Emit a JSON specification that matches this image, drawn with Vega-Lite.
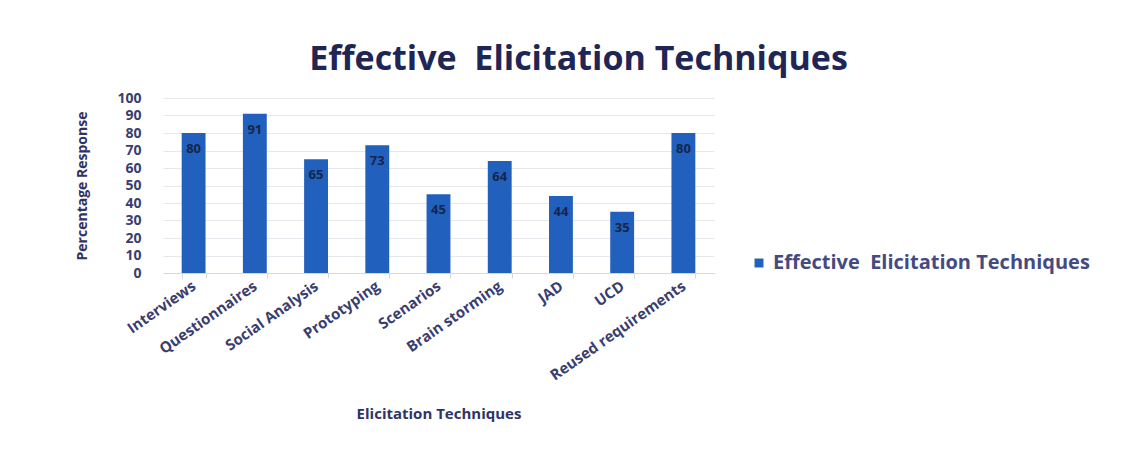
{
  "$schema": "https://vega.github.io/schema/vega-lite/v6.json",
  "width": 551,
  "height": 175,
  "autosize": {"type": "none"},
  "padding": {"left": 163, "top": 98, "right": 420, "bottom": 181},
  "background": "white",
  "title": {
    "text": "Effective\u00a0 Elicitation Techniques",
    "font": "Open Sans",
    "fontSize": 34,
    "fontWeight": "bold",
    "color": "#1f2656",
    "anchor": "middle",
    "dx": 140,
    "offset": 14
  },
  "data": {
    "values": [
      {"technique": "Interviews", "value": 80, "series": "Effective\u00a0 Elicitation Techniques"},
      {"technique": "Questionnaires", "value": 91, "series": "Effective\u00a0 Elicitation Techniques"},
      {"technique": "Social Analysis", "value": 65, "series": "Effective\u00a0 Elicitation Techniques"},
      {"technique": "Prototyping", "value": 73, "series": "Effective\u00a0 Elicitation Techniques"},
      {"technique": "Scenarios", "value": 45, "series": "Effective\u00a0 Elicitation Techniques"},
      {"technique": "Brain storming", "value": 64, "series": "Effective\u00a0 Elicitation Techniques"},
      {"technique": "JAD", "value": 44, "series": "Effective\u00a0 Elicitation Techniques"},
      {"technique": "UCD", "value": 35, "series": "Effective\u00a0 Elicitation Techniques"},
      {"technique": "Reused requirements", "value": 80, "series": "Effective\u00a0 Elicitation Techniques"}
    ]
  },
  "encoding": {
    "x": {
      "field": "technique",
      "type": "nominal",
      "sort": null,
      "scale": {"paddingInner": 0.61, "paddingOuter": 0.305},
      "axis": {
        "title": "Elicitation Techniques",
        "titleFont": "Open Sans",
        "titleFontSize": 15,
        "titleFontWeight": "bold",
        "titleColor": "#2f3366",
        "titlePadding": 24,
        "labelAngle": -35,
        "labelAlign": "right",
        "labelBaseline": "middle",
        "labelFont": "Open Sans",
        "labelFontSize": 15,
        "labelFontWeight": "bold",
        "labelColor": "#3a3d6e",
        "labelPadding": 6,
        "domainColor": "#d6d8e0",
        "tickColor": "#d6d8e0",
        "tickBand": "extent",
        "grid": false
      }
    },
    "y": {
      "field": "value",
      "type": "quantitative",
      "scale": {"domain": [0, 100]},
      "axis": {
        "title": "Percentage Response",
        "titleFont": "Open Sans",
        "titleFontSize": 14,
        "titleFontWeight": "bold",
        "titleColor": "#2f3366",
        "titlePadding": 27,
        "values": [0, 10, 20, 30, 40, 50, 60, 70, 80, 90, 100],
        "labelFont": "Open Sans",
        "labelFontSize": 14,
        "labelFontWeight": "bold",
        "labelColor": "#3a3d6e",
        "labelPadding": 22,
        "domain": false,
        "ticks": false,
        "gridColor": "#e6e8ee",
        "gridWidth": 1
      }
    }
  },
  "layer": [
    {
      "mark": {"type": "bar", "color": "#2260bd"},
      "encoding": {
        "color": {
          "field": "series",
          "type": "nominal",
          "scale": {"range": ["#2260bd"]},
          "legend": {
            "title": null,
            "orient": "none",
            "legendX": 586,
            "legendY": 155,
            "symbolType": "square",
            "symbolSize": 80,
            "labelFont": "Open Sans",
            "labelFontSize": 20,
            "labelFontWeight": "bold",
            "labelColor": "#454a80",
            "labelLimit": 420
          }
        }
      }
    },
    {
      "mark": {
        "type": "text",
        "baseline": "middle",
        "dy": 16,
        "font": "Open Sans",
        "fontSize": 13,
        "fontWeight": "bold",
        "color": "#16254a"
      },
      "encoding": {
        "text": {"field": "value", "type": "quantitative"}
      }
    }
  ],
  "config": {
    "view": {"stroke": null}
  }
}
